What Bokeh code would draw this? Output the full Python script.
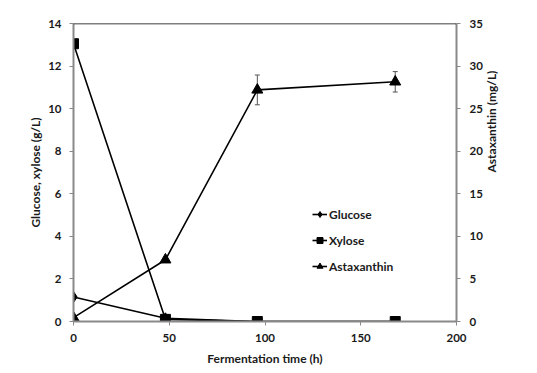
import math
from bokeh.plotting import figure
from bokeh.models import (Range1d, LinearAxis, FixedTicker, ColumnDataSource,
                          Whisker, TeeHead, Span, Legend)
from bokeh.embed import file_html
from bokeh.resources import INLINE

# Data
time_h = [0, 48, 96, 168]
glucose = [1.15, 0.15, 0.0, 0.0]
xylose = [13.05, 0.1, 0.0, 0.0]
astaxanthin = [0.45, 7.25, 27.2, 28.15]
astax_err = [0.0, 0.0, 1.75, 1.2]

x_ticks = [0, 50, 100, 150, 200]
left_ticks = [0, 2, 4, 6, 8, 10, 12, 14]
right_ticks = [0, 5, 10, 15, 20, 25, 30, 35]

FONT = "Lato"
AXIS_GRAY = "#898989"
TXT = "#1a1a1a"

p = figure(width=530, height=368, output_backend="svg", toolbar_location=None,
           x_range=Range1d(0, 200), y_range=Range1d(0, 14),
           min_border_left=73, min_border_right=74, min_border_top=23,
           min_border_bottom=43)
p.extra_y_ranges = {"astax": Range1d(0, 35)}

p.grid.visible = False
p.outline_line_color = None

def style_axis(ax, ticks, label):
    ax.ticker = FixedTicker(ticks=ticks)
    ax.axis_line_color = AXIS_GRAY
    ax.axis_line_width = 2
    ax.major_tick_line_color = AXIS_GRAY
    ax.major_tick_line_width = 1
    ax.major_tick_out = 4
    ax.major_tick_in = 0
    ax.minor_tick_line_color = None
    ax.major_label_text_font = FONT
    ax.major_label_text_font_style = "bold"
    ax.major_label_text_font_size = "11.5px"
    ax.major_label_text_color = TXT
    ax.axis_label = label
    ax.axis_label_text_font = FONT
    ax.axis_label_text_font_style = "bold"
    ax.axis_label_text_font_size = "12px"
    ax.axis_label_text_color = TXT

def label_only_axis(ax, label, bounds):
    style_axis(ax, [], label)
    ax.axis_line_color = None
    ax.major_tick_out = 0
    ax.major_label_standoff = 0
    ax.bounds = bounds

style_axis(p.xaxis[0], x_ticks, "Fermentation time (h)")
style_axis(p.yaxis[0], left_ticks, None)
p.xaxis[0].major_label_standoff = 8
p.xaxis[0].axis_label_standoff = 6
p.yaxis[0].major_label_standoff = 8

left_lab = LinearAxis()
label_only_axis(left_lab, "Glucose, xylose (g/L)", (2, 14))
left_lab.axis_label_standoff = 3
p.add_layout(left_lab, "left")

right = LinearAxis(y_range_name="astax")
style_axis(right, right_ticks, None)
right.major_label_standoff = 9
p.add_layout(right, "right")

right_lab = LinearAxis(y_range_name="astax")
label_only_axis(right_lab, "Astaxanthin (mg/L)", (0, 27.9))
right_lab.axis_label_standoff = 6
right_lab.axis_label_orientation = math.pi / 2
p.add_layout(right_lab, "right")

p.add_layout(Span(location=14, dimension="width", line_color="black", line_width=1.5))

lw = 1.6
g_line = p.line(time_h, glucose, line_color="black", line_width=lw)
g_mark = p.scatter(time_h, glucose, marker="diamond", size=11, color="black")
x_line = p.line(time_h, xylose, line_color="black", line_width=lw)
x_mark = p.scatter(time_h, xylose, marker="square", size=10, color="black")
a_line = p.line(time_h, astaxanthin, line_color="black", line_width=lw, y_range_name="astax")
a_mark = p.scatter(time_h, astaxanthin, marker="triangle", size=11, color="black",
                   y_range_name="astax")

upper = [v + e for v, e in zip(astaxanthin, astax_err)]
lower = [v - e for v, e in zip(astaxanthin, astax_err)]
src = ColumnDataSource(dict(x=time_h[2:], upper=upper[2:], lower=lower[2:]))
wh = Whisker(source=src, base="x", upper="upper", lower="lower", y_range_name="astax",
             line_color="#555555", line_width=1,
             upper_head=TeeHead(size=5, line_color="#555555", line_width=1),
             lower_head=TeeHead(size=5, line_color="#555555", line_width=1))
p.add_layout(wh)

legend = Legend(items=[("Glucose", [g_line, g_mark]),
                       ("Xylose", [x_line, x_mark]),
                       ("Astaxanthin", [a_line, a_mark])],
                location=(239, 45), padding=0, margin=0, spacing=6,
                glyph_width=15, glyph_height=20, label_height=20,
                label_standoff=2,
                label_text_font=FONT, label_text_font_style="bold",
                label_text_font_size="12px", label_text_color=TXT,
                border_line_alpha=0, background_fill_alpha=0)
p.add_layout(legend, "center")

open("out.html", "w").write(file_html(p, INLINE))
